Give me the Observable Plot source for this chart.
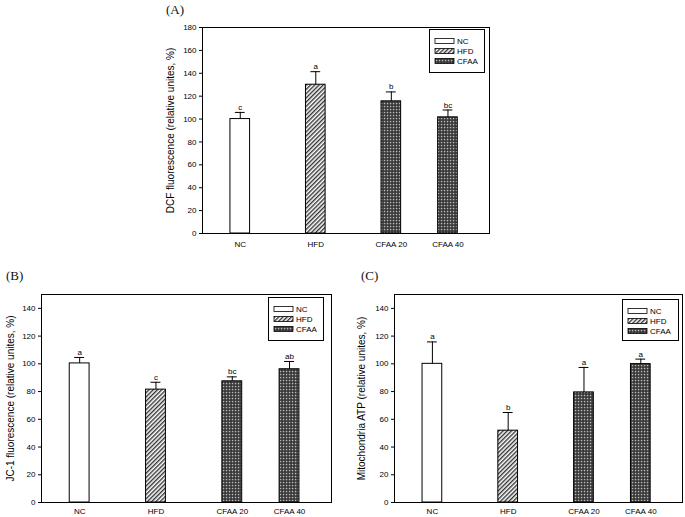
<!DOCTYPE html>
<html><head><meta charset="utf-8">
<script src="https://cdn.jsdelivr.net/npm/d3@7"></script>
<script src="https://cdn.jsdelivr.net/npm/@observablehq/plot@0.6"></script>
<style>
body{margin:0;background:#fff;width:685px;height:517px;position:relative;overflow:hidden;font-family:"Liberation Sans",Arial,sans-serif}
.panel{position:absolute}
.tag{position:absolute;font-family:"Liberation Serif","Times New Roman",serif;font-size:13px;line-height:13px;color:#111}
.legend{position:absolute}
</style></head><body>
<svg width="0" height="0" style="position:absolute;left:0;top:0">
<defs>
<pattern id="hatch" patternUnits="userSpaceOnUse" width="3" height="3" patternTransform="rotate(45)">
<rect width="3" height="3" fill="#fff"/>
<rect width="1.4" height="3" fill="#333"/>
</pattern>
<pattern id="check" patternUnits="userSpaceOnUse" width="3" height="3">
<rect width="3" height="3" fill="#333"/>
<rect x="0.8" y="0.8" width="1.5" height="1.5" fill="#bbb"/>
</pattern>
</defs></svg>
<script>
// ---- data ----
const groups = ["NC", "HFD", "CFAA 20", "CFAA 40"];
const xPos = [1, 2, 3, 3.75];
const legendKeys = ["NC", "HFD", "CFAA"];
const groupKey = ["NC", "HFD", "CFAA", "CFAA"];

const dcfMean = [100, 130, 115.5, 101.5];
const dcfSE = [5.8, 11.4, 8.2, 6.4];
const dcfLetters = ["c", "a", "b", "bc"];

const jc1Mean = [100.3, 81.4, 87.4, 96.1];
const jc1SE = [4.3, 5.3, 3.2, 5.6];
const jc1Letters = ["a", "c", "bc", "ab"];

const atpMean = [100, 51.8, 79.4, 99.8];
const atpSE = [15.8, 13.1, 18, 3.6];
const atpLetters = ["a", "b", "a", "a"];

const yTicksA = [0, 20, 40, 60, 80, 100, 120, 140, 160, 180];
const yTicksBC = [0, 20, 40, 60, 80, 100, 120, 140];

// ---- styles ----
const fills = {NC: "#fff", HFD: "url(#hatch)", CFAA: "url(#check)"};
const FONT = '"Liberation Sans", Arial, sans-serif';

function panel(o) {
  const data = groups.map((g, i) => ({
    g, x: xPos[i], y: o.mean[i], top: o.mean[i] + o.se[i], letter: o.letters[i], fill: fills[groupKey[i]]
  }));
  const chart = Plot.plot({
    width: o.width, height: o.height,
    marginLeft: o.ml, marginRight: o.mr, marginTop: o.mt, marginBottom: o.mb,
    style: {fontFamily: FONT, fontSize: "8px", color: "#000", background: "transparent", overflow: "visible"},
    x: {domain: [0.5, 4.3]},
    y: {domain: [0, o.yMax]},
    color: {type: "identity"},
    marks: [
      Plot.rect(data, {x1: d => d.x - 0.13, x2: d => d.x + 0.13, y1: 0, y2: "y", fill: "fill", stroke: "#000", strokeWidth: 1}),
      Plot.ruleX(data, {x: "x", y1: "y", y2: "top", stroke: "#000", strokeWidth: 1}),
      Plot.ruleY(data, {x1: d => d.x - 0.065, x2: d => d.x + 0.065, y: "top", stroke: "#000", strokeWidth: 1}),
      Plot.text(data, {x: "x", y: "top", text: "letter", lineAnchor: "bottom", dy: -2.5, fontSize: 8, fill: "#000"}),
      Plot.axisY({ticks: o.yTicks, tickSize: 3, tickPadding: 3, label: null, fontSize: 8, fill: "#000"}),
      Plot.axisX({ticks: xPos, tickFormat: d => groups[xPos.indexOf(d)], tickSize: 0, tickPadding: o.xPad, label: null, fontSize: 8, fill: "#000"}),
      Plot.text([o.label], {frameAnchor: "left", text: d => d, textAnchor: "middle", lineAnchor: "middle", rotate: -90, dx: o.labelDx, fontSize: 10, fill: "#000"}),
      Plot.frame({stroke: "#000", strokeWidth: 1})
    ]
  });
  chart.classList.add("panel");
  chart.style.left = o.left + "px";
  chart.style.top = o.top + "px";
  document.body.appendChild(chart);
}

function legend(left, top, w, h) {
  const svg = d3.create("svg").attr("class", "legend").attr("width", w + 2).attr("height", h + 2)
    .style("left", left + "px").style("top", top + "px").style("position", "absolute");
  svg.append("rect").attr("x", 0.5).attr("y", 0.5).attr("width", w).attr("height", h).attr("fill", "#fff").attr("stroke", "#000");
  const rowY = [12, 22, 32];
  legendKeys.forEach((k, i) => {
    svg.append("rect").attr("x", 6).attr("y", rowY[i] - 2.5).attr("width", 19).attr("height", 5)
      .attr("fill", fills[k]).attr("stroke", "#000").attr("stroke-width", 0.8);
    svg.append("text").attr("x", 28).attr("y", rowY[i]).attr("dy", "0.35em")
      .attr("font-family", FONT).attr("font-size", 8).attr("fill", "#000").text(k);
  });
  document.body.appendChild(svg.node());
}

function tag(text, left, top) {
  const d = document.createElement("div");
  d.className = "tag"; d.textContent = text;
  d.style.left = left + "px"; d.style.top = top + "px";
  document.body.appendChild(d);
}

panel({mean: dcfMean, se: dcfSE, letters: dcfLetters, yMax: 180, yTicks: yTicksA,
  label: "DCF fluorescence (relative unites, %)", xPad: 8,
  left: 140, top: 0, width: 360, height: 262, ml: 62, mr: 11, mt: 27, mb: 29, labelDx: -31.5});
panel({mean: jc1Mean, se: jc1SE, letters: jc1Letters, yMax: 150, yTicks: yTicksBC,
  label: "JC-1 fluorescence (relative unites, %)", xPad: 6,
  left: 0, top: 262, width: 340, height: 255, ml: 41, mr: 9, mt: 32, mb: 15, labelDx: -31});
panel({mean: atpMean, se: atpSE, letters: atpLetters, yMax: 150, yTicks: yTicksBC,
  label: "Mitochondria ATP (relative unites, %)", xPad: 6,
  left: 340, top: 262, width: 345, height: 255, ml: 54, mr: 3, mt: 32, mb: 15, labelDx: -32.5});

legend(429, 29, 55, 43);
legend(268, 297, 55, 43);
legend(622, 299, 56, 41);

tag("(A)", 166, 3);
tag("(B)", 6, 269);
tag("(C)", 361, 269);
</script>
</body></html>
